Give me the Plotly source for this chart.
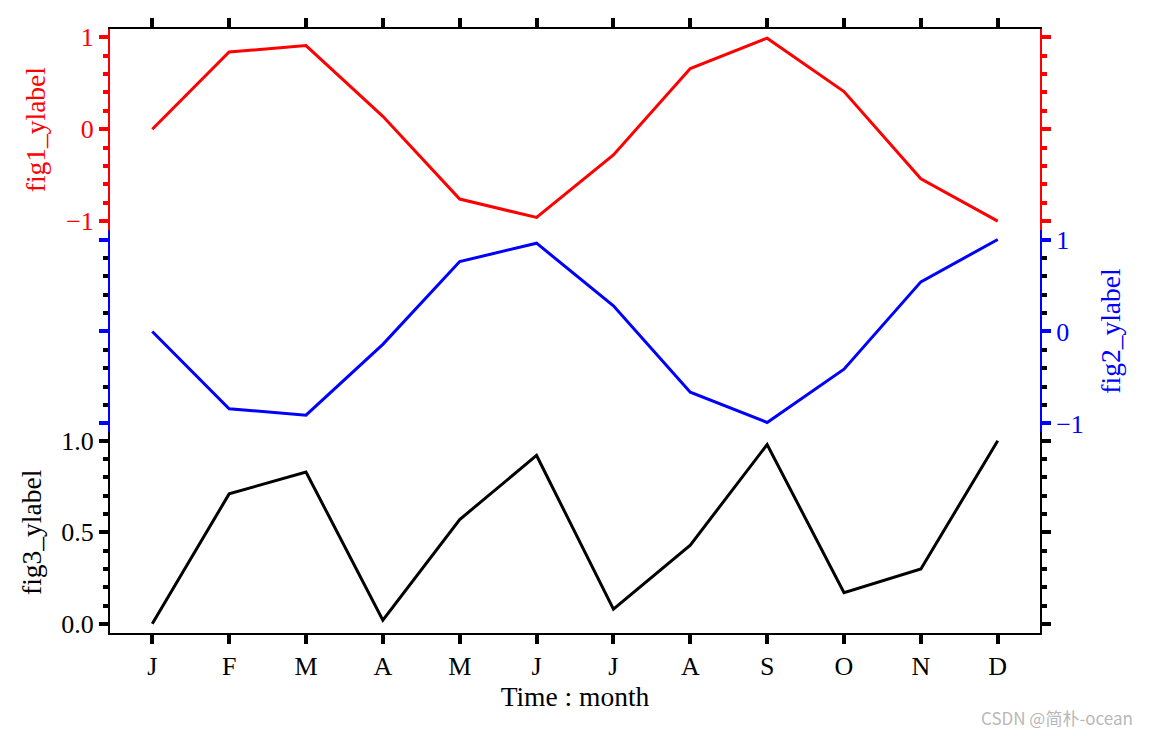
import plotly.graph_objects as go

months = ["J", "F", "M", "A", "M", "J", "J", "A", "S", "O", "N", "D"]
month_pos = list(range(len(months)))
fig1_values = [0.00, 0.84, 0.91, 0.14, -0.76, -0.96, -0.28, 0.66, 0.99, 0.41, -0.54, -1.00]
fig2_values = [0.00, -0.84, -0.91, -0.14, 0.76, 0.96, 0.28, -0.66, -0.99, -0.41, 0.54, 1.00]
fig3_values = [0.00, 0.71, 0.83, 0.02, 0.57, 0.92, 0.08, 0.43, 0.98, 0.17, 0.30, 1.00]

FONT = "Liberation Serif, Times New Roman, serif"
FS = 26
TFS = 27.5

fig = go.Figure()
fig.add_trace(go.Scatter(x=month_pos, y=fig1_values, mode="lines",
                         line=dict(color="red", width=3), xaxis="x", yaxis="y"))
fig.add_trace(go.Scatter(x=month_pos, y=fig2_values, mode="lines",
                         line=dict(color="blue", width=3), xaxis="x2", yaxis="y2"))
fig.add_trace(go.Scatter(x=month_pos, y=fig3_values, mode="lines",
                         line=dict(color="black", width=3), xaxis="x3", yaxis="y3"))

xr = [-0.55, 11.55]
common_x = dict(range=xr, tickvals=month_pos, ticktext=months, showgrid=False,
                zeroline=False, domain=[0, 1])

fig.update_layout(
    width=1149, height=736,
    margin=dict(l=110, r=109, t=29, b=103),
    paper_bgcolor="white", plot_bgcolor="white",
    showlegend=False,
    font=dict(family=FONT, size=FS, color="black"),
    xaxis=dict(**common_x, anchor="y", side="top", showline=True, linecolor="black",
               linewidth=2, ticks="outside", ticklen=9, tickwidth=4, tickcolor="black",
               showticklabels=False),
    xaxis2=dict(**common_x, anchor="y2", matches="x", showline=False, ticks="",
                showticklabels=False),
    xaxis3=dict(**common_x, anchor="y3", matches="x", side="bottom", showline=True,
                linecolor="black", linewidth=2, ticks="outside", ticklen=9, tickwidth=4,
                tickcolor="black", showticklabels=True,
                tickfont=dict(size=FS, color="black"),
                title=dict(text="Time : month", font=dict(size=TFS, color="black"), standoff=6)),
    yaxis=dict(domain=[2/3, 1], anchor="x", range=[-1.1, 1.09], side="left",
               tickvals=[-1, 0, 1], showgrid=False, zeroline=False,
               showline=True, linecolor="red", linewidth=2, mirror="ticks",
               ticks="outside", ticklen=9, tickwidth=4, tickcolor="red",
               tickfont=dict(size=FS, color="red"),
               minor=dict(ticks="outside", dtick=0.2, tick0=0, ticklen=5, tickwidth=4,
                          tickcolor="red", showgrid=False),
               title=dict(text="fig1_ylabel", font=dict(size=TFS, color="red"), standoff=12)),
    yaxis2=dict(domain=[1/3, 2/3], anchor="x2", range=[-1.09, 1.1], side="right",
                tickvals=[-1, 0, 1], showgrid=False, zeroline=False,
                showline=True, linecolor="blue", linewidth=2, mirror="ticks",
                ticks="outside", ticklen=9, tickwidth=4, tickcolor="blue",
                tickfont=dict(size=FS, color="blue"),
                minor=dict(ticks="outside", dtick=0.2, tick0=0, ticklen=5, tickwidth=4,
                           tickcolor="black", showgrid=False),
                title=dict(text="fig2_ylabel", font=dict(size=TFS, color="blue"), standoff=18)),
    yaxis3=dict(domain=[0, 1/3], anchor="x3", range=[-0.05, 1.05], side="left",
                tickvals=[0, 0.5, 1], ticktext=["0.0", "0.5", "1.0"],
                showgrid=False, zeroline=False,
                showline=True, linecolor="black", linewidth=2, mirror="ticks",
                ticks="outside", ticklen=9, tickwidth=4, tickcolor="black",
                tickfont=dict(size=FS, color="black"),
                minor=dict(ticks="outside", dtick=0.1, tick0=0, ticklen=5, tickwidth=4,
                           tickcolor="black", showgrid=False),
                title=dict(text="fig3_ylabel", font=dict(size=TFS, color="black"), standoff=12)),
)

fig.add_annotation(text="CSDN @简朴-ocean", xref="paper", yref="paper",
                   x=1.102, y=-0.14, xanchor="right", yanchor="middle", showarrow=False,
                   font=dict(family="Noto Sans CJK SC, sans-serif", size=17, color="#b8b8b8"))

fig.write_html("out.html")
